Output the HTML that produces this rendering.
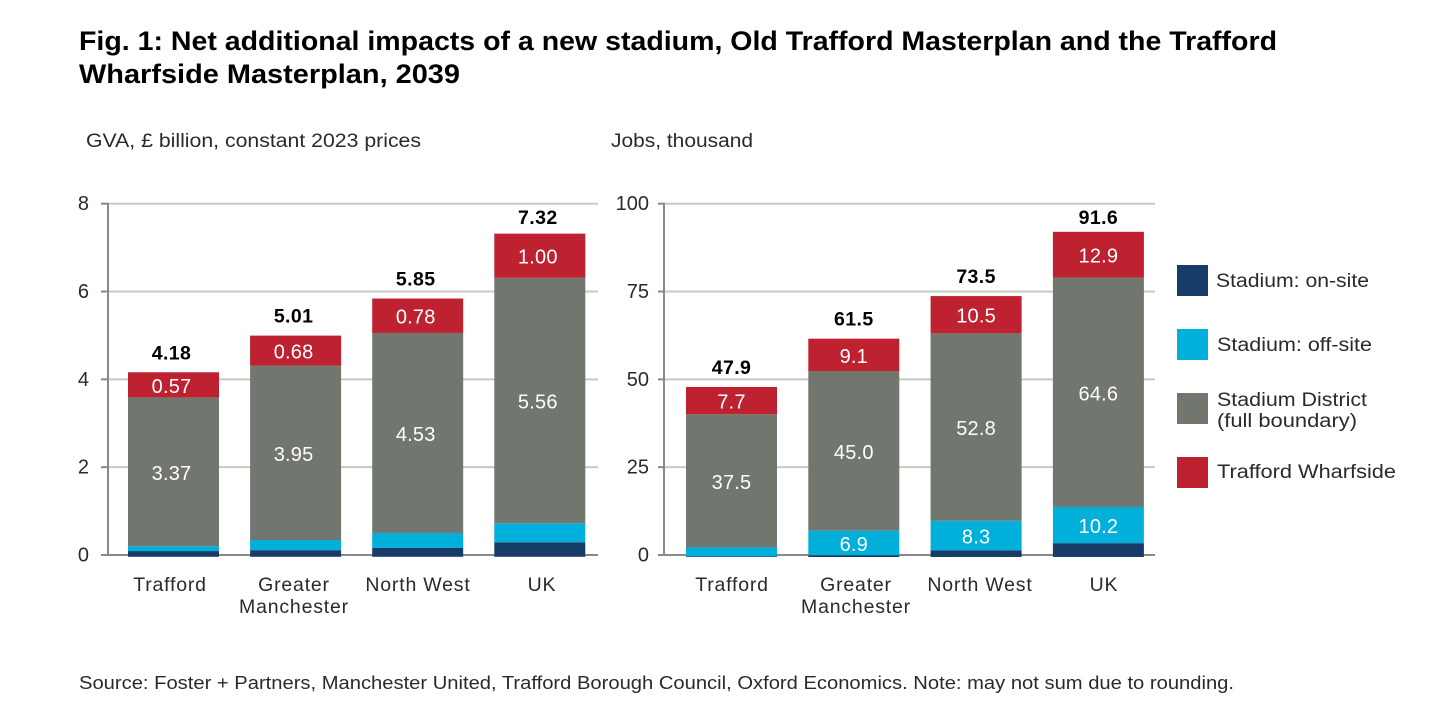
<!DOCTYPE html>
<html lang="en">
<head>
<meta charset="utf-8">
<title>Net additional impacts chart</title>
<style>
  html, body { margin: 0; padding: 0; background: #fff; }
  svg { display: block; font-family: "Liberation Sans", sans-serif; }
  text { fill: #2a2a2a; }
  .title { font-size: 27px; font-weight: bold; fill: #000; }
  .sub { font-size: 19px; }
  .tick { font-size: 20px; text-anchor: end; }
  .cat { font-size: 19.5px; text-anchor: middle; letter-spacing: .8px; }
  .val { font-size: 20px; text-anchor: middle; fill: #fff; letter-spacing: .2px; }
  .tot { font-size: 19.5px; font-weight: bold; text-anchor: middle; fill: #000; letter-spacing: .4px; }
  .leg { font-size: 19px; }
  .src { font-size: 18px; }
</style>
</head>
<body>
<svg id="figure" width="1434" height="710" viewBox="0 0 1434 710" xmlns="http://www.w3.org/2000/svg">
  <rect width="1434" height="710" fill="#fff"/>
  <text class="title" x="79" y="50" textLength="1198" lengthAdjust="spacingAndGlyphs">Fig. 1: Net additional impacts of a new stadium, Old Trafford Masterplan and the Trafford</text>
  <text class="title" x="79" y="83" textLength="381" lengthAdjust="spacingAndGlyphs">Wharfside Masterplan, 2039</text>
  <text class="sub" x="86" y="147" textLength="335" lengthAdjust="spacingAndGlyphs">GVA, £ billion, constant 2023 prices</text>
  <text class="sub" x="611" y="147" textLength="142" lengthAdjust="spacingAndGlyphs">Jobs, thousand</text>

  <g id="gva-panel"></g>
  <g id="jobs-panel"></g>

  <g>
    <g>
      <rect x="1177" y="265" width="31" height="31" fill="#183c6a"/>
      <text class="leg" x="1216" y="287" textLength="153" lengthAdjust="spacingAndGlyphs">Stadium: on-site</text>
    </g>
    <g>
      <rect x="1177" y="329" width="31" height="31" fill="#00b0da"/>
      <text class="leg" x="1217" y="351" textLength="155" lengthAdjust="spacingAndGlyphs">Stadium: off-site</text>
    </g>
    <g>
      <rect x="1177" y="393" width="31" height="31" fill="#71766f"/>
      <text class="leg" x="1217" y="406" textLength="150" lengthAdjust="spacingAndGlyphs">Stadium District</text>
      <text class="leg" x="1217" y="427" textLength="140" lengthAdjust="spacingAndGlyphs">(full boundary)</text>
    </g>
    <g>
      <rect x="1177" y="457" width="31" height="31" fill="#be2130"/>
      <text class="leg" x="1217" y="478" textLength="179" lengthAdjust="spacingAndGlyphs">Trafford Wharfside</text>
    </g>
  </g>

  <text class="src" x="79" y="689" textLength="1155" lengthAdjust="spacingAndGlyphs">Source: Foster + Partners, Manchester United, Trafford Borough Council, Oxford Economics. Note: may not sum due to rounding.</text>
</svg>
<script>
const categoryLines = [['Trafford'], ['Greater', 'Manchester'], ['North West'], ['UK']];
const seriesColors = ['#183c6a', '#00b0da', '#71766f', '#be2130'];

const gvaOnSite = [0.13, 0.15, 0.20, 0.33];
const gvaOffSite = [0.11, 0.23, 0.34, 0.43];
const gvaDistrict = [3.37, 3.95, 4.53, 5.56];
const gvaWharfside = [0.57, 0.68, 0.78, 1.00];
const gvaTotals = [4.18, 5.01, 5.85, 7.32];
const gvaTicks = [0, 2, 4, 6, 8];

const jobsOnSite = [0.2, 0.5, 1.9, 3.9];
const jobsOffSite = [2.5, 6.9, 8.3, 10.2];
const jobsDistrict = [37.5, 45.0, 52.8, 64.6];
const jobsWharfside = [7.7, 9.1, 10.5, 12.9];
const jobsTotals = [47.9, 61.5, 73.5, 91.6];
const jobsTicks = [0, 25, 50, 75, 100];

const NS = 'http://www.w3.org/2000/svg';

function make(tag, parent, attrs, content) {
  const el = document.createElementNS(NS, tag);
  Object.keys(attrs).forEach(function (k) { el.setAttribute(k, attrs[k]); });
  if (content !== undefined) el.textContent = content;
  parent.appendChild(el);
  return el;
}

function drawPanel(cfg) {
  const root = document.getElementById(cfg.id);
  const gridY = function (v) { return cfg.gridBase - (v / cfg.axisMax) * (cfg.gridBase - cfg.gridTop); };
  const barY = function (v) { return cfg.barBase - v * cfg.barScale; };
  const bandX = function (i) { return cfg.firstBar + i * cfg.pitch; };
  const labelX = function (i) { return cfg.firstLabel + i * cfg.labelPitch; };

  cfg.ticks.forEach(function (t) {
    if (t !== 0) {
      const grid = make('line', root, { x1: cfg.axisX, x2: cfg.gridEnd, y1: gridY(t), y2: gridY(t), stroke: '#c8c9c3', 'stroke-width': 2 });
      
      
    }
    const mark = make('line', root, { x1: cfg.tickStart, x2: cfg.axisX, y1: gridY(t), y2: gridY(t), stroke: '#888a86', 'stroke-width': 2 });
    
    
    const label = make('text', root, { class: 'tick', x: cfg.tickEnd, y: gridY(t) + 6.5 }, String(t));
    
    
  });

  const yAxis = make('line', root, { x1: cfg.axisX, x2: cfg.axisX, y1: gridY(cfg.axisMax) - 1, y2: gridY(0), stroke: '#888a86', 'stroke-width': 2 });
  
  
  const xAxis = make('line', root, { x1: cfg.axisX, x2: cfg.gridEnd, y1: gridY(0), y2: gridY(0), stroke: '#888a86', 'stroke-width': 2 });
  
  

  categoryLines.forEach(function (lines, i) {
    const x = bandX(i);
    const textX = x + cfg.barWidth / 2 + cfg.textShift;
    let cum = 0;
    cfg.series.forEach(function (values, s) {
      const v = values[i];
      const top = barY(cum + v);
      const bottom = barY(cum);
      cum += v;
      const seg = make('rect', root, { x: x, y: top, width: cfg.barWidth, height: bottom - top, fill: seriesColors[s] });
      
      
      const showLabel = s >= 2 || (s === 1 && cfg.showOffSite(i));
      if (showLabel) {
        const val = make('text', root, { class: 'val', x: textX, y: (top + bottom) / 2 + 8 }, v.toFixed(cfg.decimals));
        
        
      }
    });
    const total = make('text', root, { class: 'tot', x: textX, y: Math.max(barY(cum) - 13, 224) }, cfg.totals[i].toFixed(cfg.decimals));
    
    
    lines.forEach(function (line, n) {
      const cat = make('text', root, { class: 'cat', x: labelX(i), y: 591 + n * 22 }, line);
      
      
    });
  });
}

drawPanel({
  id: 'gva-panel', key: 'gva', decimals: 2, axisMax: 8,
  series: [gvaOnSite, gvaOffSite, gvaDistrict, gvaWharfside],
  totals: gvaTotals, ticks: gvaTicks,
  showOffSite: function () { return false; },
  gridBase: 555, gridTop: 203.7, axisX: 108, gridEnd: 598, tickStart: 101, tickEnd: 89,
  barBase: 556.8, barScale: 44.15, firstBar: 128, pitch: 122.1, barWidth: 91,
  textShift: -2, firstLabel: 170, labelPitch: 124
});

drawPanel({
  id: 'jobs-panel', key: 'jobs', decimals: 1, axisMax: 100,
  series: [jobsOnSite, jobsOffSite, jobsDistrict, jobsWharfside],
  totals: jobsTotals, ticks: jobsTicks,
  showOffSite: function (i) { return i > 0; },
  gridBase: 555, gridTop: 203.7, axisX: 664, gridEnd: 1155, tickStart: 658, tickEnd: 649,
  barBase: 557, barScale: 3.55, firstBar: 686, pitch: 122.3, barWidth: 91,
  textShift: 0, firstLabel: 732, labelPitch: 124
});
</script>
</body>
</html>
